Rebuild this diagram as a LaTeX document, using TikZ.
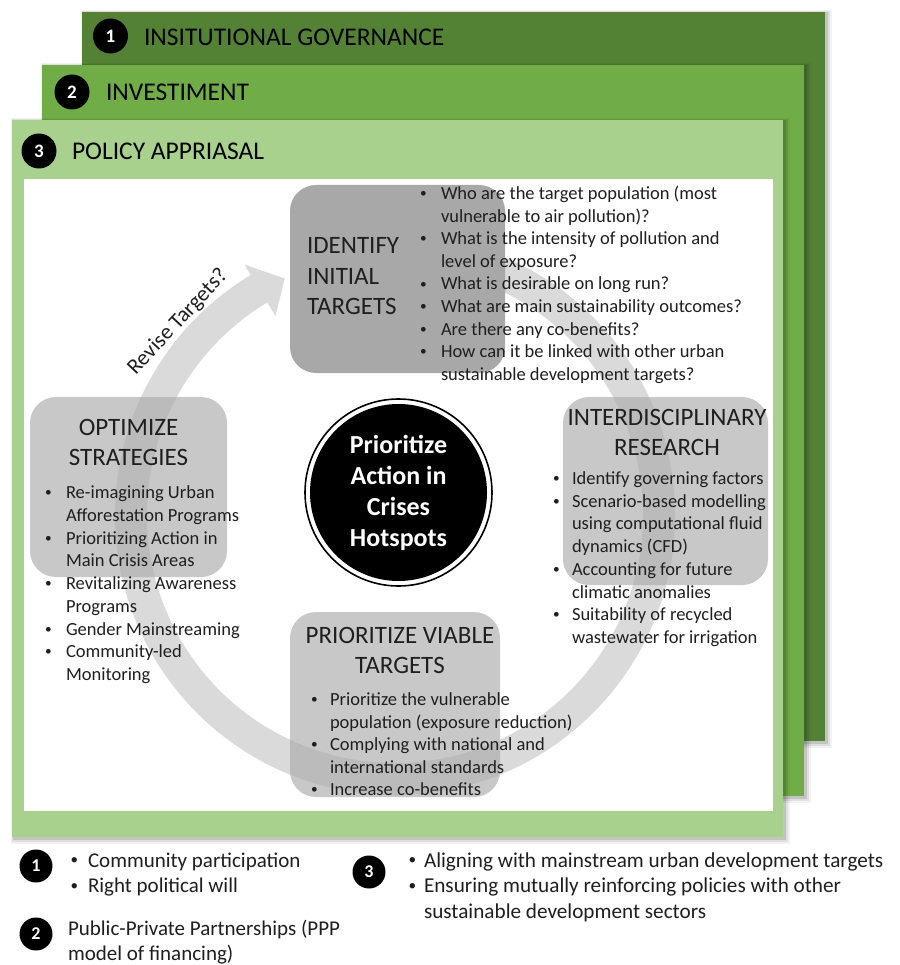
\documentclass[tikz,border=0pt]{standalone}
\usepackage{graphicx}
\usepackage{fontspec}
\setmainfont{Carlito}
\usetikzlibrary{calc}
\definecolor{gdark}{HTML}{548235}
\definecolor{gmid}{HTML}{70AD47}
\definecolor{glight}{HTML}{A9D18E}
\definecolor{ringcol}{HTML}{DADADA}
\definecolor{boxdark}{HTML}{A8A8A8}
\definecolor{boxsoft}{HTML}{ACACAC}
\definecolor{txt}{HTML}{1F1F1F}
\newlength\bw
\newcommand\bl{\makebox[\bw][l]{\hspace*{.12em}\raisebox{.1em}{\scalebox{.72}{\textbullet}}}}
\newcommand\ind{\hspace*{\bw}}
\newcommand\lst[4]{\fontsize{#1}{#2}\selectfont\setlength\bw{#3}\begin{tabular}[t]{@{}l@{}}#4\end{tabular}}
\newcommand\ctab[1]{\begin{tabular}[t]{@{}c@{}}#1\end{tabular}}
\newcommand\ltab[1]{\begin{tabular}[t]{@{}l@{}}#1\end{tabular}}
\newcommand\shrect[4]{%
  \fill[black,opacity=.05] (#1-1,-#2+2) rectangle (#3+7,-#4-7);
  \fill[black,opacity=.08] (#1,-#2+1) rectangle (#3+5,-#4-5);
  \fill[black,opacity=.12] (#1+1,-#2) rectangle (#3+3,-#4-3);
}
\begin{document}
\begin{tikzpicture}[x=1pt,y=1pt,
  panelttl/.style={anchor=base west, inner sep=0, outer sep=0, font=\fontsize{25.5}{30}\selectfont, text=black},
  numdot/.style={circle, fill=black, inner sep=0, minimum size=35pt, text=white, font=\fontsize{19}{19}\selectfont\bfseries},
  lgdot/.style={numdot, minimum size=33pt, font=\fontsize{18}{18}\selectfont\bfseries},
  softbox/.style={fill=boxsoft, fill opacity=.66, rounded corners=26pt, inner sep=0, outer sep=0, anchor=north west},
  hardbox/.style={fill=boxdark, rounded corners=26pt, inner sep=0, outer sep=0, anchor=north west},
  boxttl/.style={inner sep=0, outer sep=0, font=\fontsize{25}{30.5}\selectfont, text=txt},
  lst/.style={anchor=base west, inner sep=0, outer sep=0, text=txt},
]
\useasboundingbox (0,0) rectangle (899,-965);
\fill[white] (0,0) rectangle (899,-965);

% panels
\shrect{82}{12}{825}{741}
\fill[gdark] (82,-12) rectangle (825,-741);
\shrect{42}{65}{804}{796}
\fill[gmid] (42,-65) rectangle (804,-796);
\shrect{12}{120}{783}{837}
\fill[glight] (12,-120) rectangle (783,-837);
\fill[white] (24,-179) rectangle (773,-811);

% panel titles
\node[numdot] (n1) at (110.5,-36) {1};
\node[panelttl] (t1) at (144,-46) {INSITUTIONAL GOVERNANCE};
\node[numdot] (n2) at (72,-92) {2};
\node[panelttl] (t2) at (106,-101) {INVESTIMENT};
\node[numdot] (n3) at (39,-151) {3};
\node[panelttl] (t3) at (72,-160) {POLICY APPRIASAL};

% circular arrow
\coordinate (C) at (395,-515);
\fill[ringcol] ($(C)+(95:280)$) arc[start angle=95,end angle=-239,radius=280]
  -- ($(C)+(-239:292)$) -- ($(C)+(-245:261)$) -- ($(C)+(-239:232)$)
  -- ($(C)+(-239:248)$) arc[start angle=-239,end angle=95,radius=248] -- cycle;

% boxes
\node[hardbox, minimum width=215pt, minimum height=188pt] (idbox) at (290,-185) {};
\node[softbox, minimum width=197pt, minimum height=180pt] (optbox) at (30,-397) {};
\node[softbox, minimum width=205pt, minimum height=188pt] (intbox) at (563,-397) {};
\node[softbox, minimum width=210pt, minimum height=185pt] (pvbox) at (290,-612) {};

% box titles
\node[boxttl, anchor=base west] (idttl) at (307,-254) {\ltab{IDENTIFY\\INITIAL\\TARGETS}};
\node[boxttl, anchor=base] (optttl) at (128.5,-435) {\ctab{OPTIMIZE\\STRATEGIES}};
\node[boxttl, anchor=base] (intttl) at (667,-425) {\ctab{INTERDISCIPLINARY\\RESEARCH}};
\node[boxttl, anchor=base] (pvttl) at (400,-643) {\ctab{PRIORITIZE VIABLE\\TARGETS}};

% lists
\node[lst] (idlist) at (418,-199.5) {\lst{18.5}{22.6}{23pt}{%
\bl Who are the target population (most\\
\ind vulnerable to air pollution)?\\
\bl What is the intensity of pollution and\\
\ind level of exposure?\\
\bl What is desirable on long run?\\
\bl What are main sustainability outcomes?\\
\bl Are there any co-benefits?\\
\bl How can it be linked with other urban\\
\ind sustainable development targets?}};

\node[lst] (optlist) at (43,-498.5) {\lst{18.5}{22.75}{23pt}{%
\bl Re-imagining Urban\\
\ind Afforestation Programs\\
\bl Prioritizing Action in\\
\ind Main Crisis Areas\\
\bl Revitalizing Awareness\\
\ind Programs\\
\bl Gender Mainstreaming\\
\bl Community-led\\
\ind Monitoring}};

\node[lst] (intlist) at (551,-484.5) {\lst{18.5}{22.7}{21pt}{%
\bl Identify governing factors\\
\bl Scenario-based modelling\\
\ind using computational fluid\\
\ind dynamics (CFD)\\
\bl Accounting for future\\
\ind climatic anomalies\\
\bl Suitability of recycled\\
\ind wastewater for irrigation}};

\node[lst] (pvlist) at (309,-705.5) {\lst{18.5}{22.5}{21pt}{%
\bl Prioritize the vulnerable\\
\ind population (exposure reduction)\\
\bl Complying with national and\\
\ind international standards\\
\bl Increase co-benefits}};

% revise label
\node[rotate=47, inner sep=0, font=\fontsize{22}{22}\selectfont, text=txt] (revise) at (178,-322) {Revise Targets?};

% hub
\node[circle, fill=black, minimum size=177pt, inner sep=0, text=white, align=center,
  font=\fontsize{26}{31}\selectfont\bfseries] (hub) at (398.5,-492.5) {Prioritize\\Action in\\Crises\\Hotspots};
\draw[line width=1.6pt] (hub.center) circle[radius=93.5];

% legend
\node[lgdot] (l1) at (36,-866) {1};
\node[lst] (l1txt) at (68,-867) {\lst{21}{25.5}{20pt}{%
\bl Community participation\\
\bl Right political will}};
\node[lgdot] (l2) at (36,-934) {2};
\node[lst] (l2txt) at (68,-935) {\lst{21}{25}{0pt}{%
Public-Private Partnerships (PPP\\
model of financing)}};
\node[lgdot] (l3) at (369,-872) {3};
\node[lst] (l3txt) at (406,-867) {\lst{21.2}{25.5}{18pt}{%
\bl Aligning with mainstream urban development targets\\
\bl Ensuring mutually reinforcing policies with other\\
\ind sustainable development sectors}};
\end{tikzpicture}
\end{document}
